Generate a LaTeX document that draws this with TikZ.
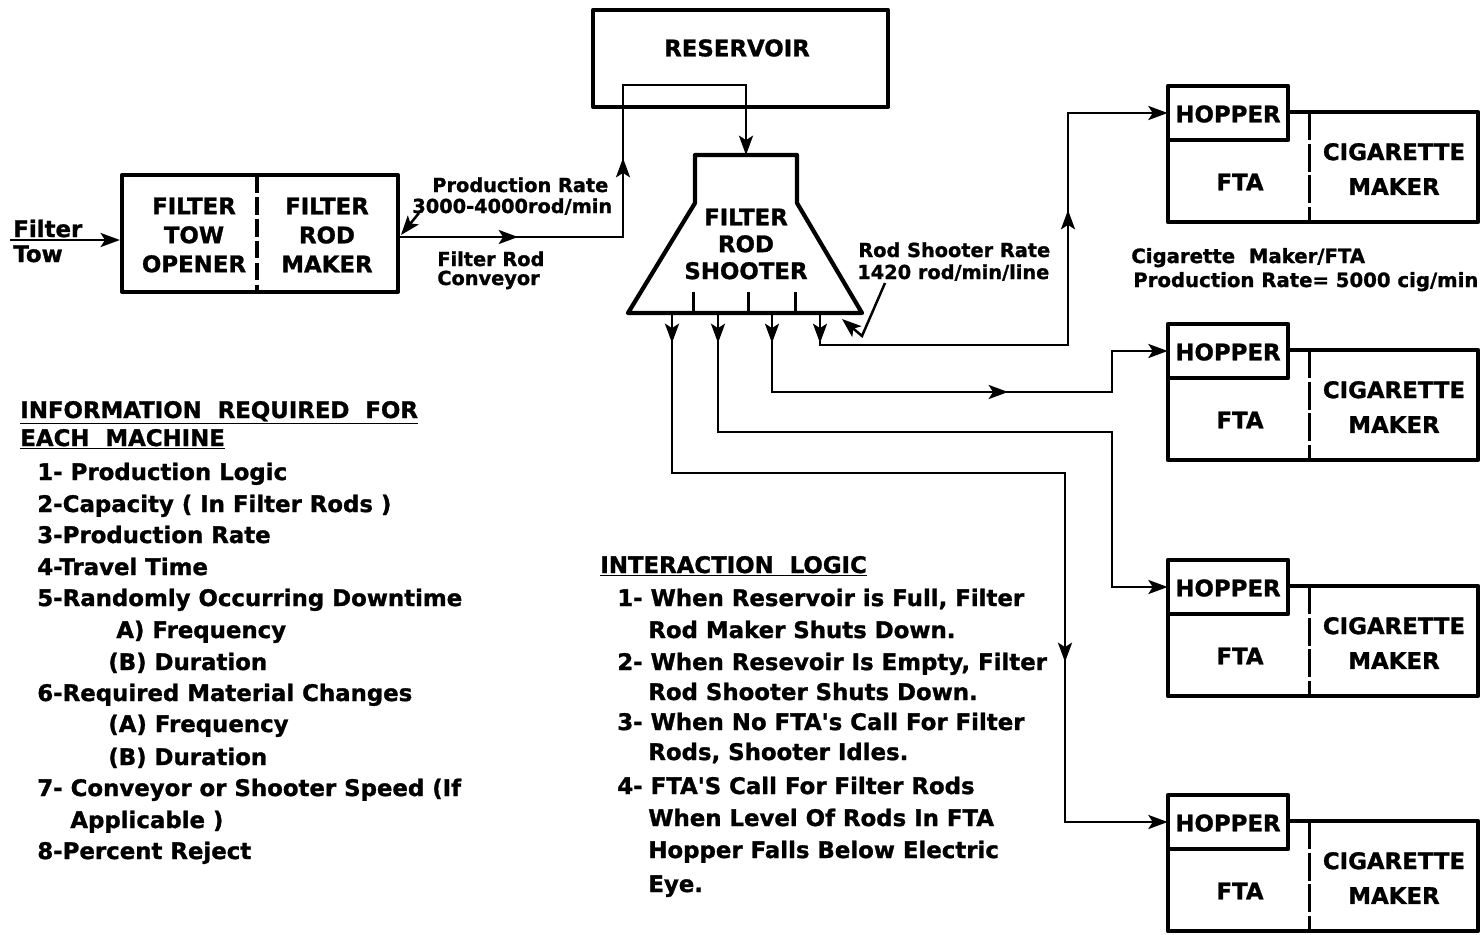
\documentclass[tikz,border=0pt]{standalone}
\usepackage{fontspec}
\setmainfont{DejaVu Sans}
\newfontfamily\heavy{DejaVu Sans Bold}[FakeBold=1.2]
\usetikzlibrary{arrows.meta}
\begin{document}
\begin{tikzpicture}[x=0.02cm,y=-0.02cm,
  box/.style={line width=2.4pt, line join=round},
  conn/.style={line width=1.4pt},
  tip/.style={-{Stealth[length=11pt,width=8pt,inset=2.5pt]}},
  lbl/.style={font=\heavy\fontsize{13}{16}\selectfont, inner sep=0pt, align=center},
  sm/.style={font=\heavy\fontsize{11}{13}\selectfont, inner sep=0pt, anchor=base west},
  smb/.style={font=\heavy\fontsize{11.2}{13}\selectfont, inner sep=0pt, anchor=base west},
  txt/.style={font=\heavy\fontsize{13}{15}\selectfont, inner sep=0pt, anchor=base west},
]
\useasboundingbox (0,0) rectangle (1483,934);

% ---- filter tow opener / filter rod maker
\node[draw,box,minimum width=5.52cm,minimum height=2.34cm,inner sep=0] (fbox) at (260,233.5) {};
\draw[line width=2.2pt,dash pattern=on 10pt off 2.5pt] (257,175) -- (257,292);
\node[lbl,font=\heavy\fontsize{13}{16.5}\selectfont] (fto) at (194,235) {FILTER\\TOW\\OPENER};
\node[lbl,font=\heavy\fontsize{13}{16.5}\selectfont] (frm) at (327,235) {FILTER\\ROD\\MAKER};

\coordinate (tw) at (10,240);
\draw[conn,tip] (tw) -- (tw -| fbox.west);
\node[txt] (ft1) at (13,237) {Filter};
\node[txt] (ft2) at (13,262) {Tow};

% ---- reservoir
\node[draw,box,minimum width=5.9cm,minimum height=1.94cm,inner sep=0] (res) at (740.5,58.5) {};
\node[lbl] (rest) at (737,48) {RESERVOIR};

% ---- shooter
\draw[box] (695,155) -- (797,155) -- (797,203) -- (862,313) -- (628,313) -- (695,203) -- cycle;
\coordinate (st) at (746,155);
\node[lbl,font=\heavy\fontsize{13}{15.3}\selectfont] (sht) at (746,244) {FILTER\\ROD\\SHOOTER};
\foreach \x in {693,748,795} \draw[line width=1.7pt] (\x,292) -- (\x,313);

% ---- conveyor
\coordinate (cv0) at (398,237);
\coordinate (cv1) at (623,237);
\coordinate (cv2) at (623,85);
\coordinate (cv3) at (746,85);
\draw[conn,tip] (cv0) -- (cv1) -- (cv2) -- (cv3) -- (st);
\coordinate (cva) at (518,237);
\coordinate (cvb) at (623,158);
\draw[conn,tip] (cv0) -- (cva);
\draw[conn,tip] (cv1) -- (cvb);
\node[sm] (pr1) at (432,192) {Production Rate};
\node[sm] (pr2) at (412,213) {3000-4000rod/min};
\node[sm] (cvl1) at (437,266) {Filter Rod};
\node[sm] (cvl2) at (437,285) {Conveyor};
\coordinate (pl) at (419,213);
\coordinate (pe) at (401,235);
\draw[conn,tip] (pl) -- (pe);

% ---- FTA / cigarette maker units
\foreach \i/\t in {1/86,2/324,3/560,4/795}{
  \node[minimum width=2.4cm,minimum height=1.08cm,inner sep=0] (h\i) at (1228,\t+27) {};
  \draw[box] (1168,\t) -- (1288,\t) -- (1288,\t+26) -- (1478,\t+26) -- (1478,\t+136) -- (1168,\t+136) -- cycle;
  \draw[box] (1168,\t+54) -- (1288,\t+54) -- (1288,\t+26);
  \node[lbl] at (1228,\t+28) {HOPPER};
  \draw[line width=1.7pt,dash pattern=on 16pt off 2pt] (1309,\t+26) -- (1309,\t+136);
  \node[lbl] at (1240,\t+96) {FTA};
  \node[lbl,font=\heavy\fontsize{13}{19.8}\selectfont] at (1394,\t+83) {CIGARETTE\\MAKER};
}
\node[smb] (cm1) at (1131,263) {Cigarette\ \ Maker/FTA};
\node[smb] (cm2) at (1133,287) {Production Rate= 5000 cig/min};

% ---- shooter outputs
\coordinate (o1) at (672,313);
\coordinate (o2) at (718,313);
\coordinate (o3) at (772,313);
\coordinate (o4) at (820,316);
\coordinate (v4) at (1068,345);
\coordinate (v3) at (1112,392);
\coordinate (v2) at (1112,432);
\coordinate (v1) at (1065,473);
\draw[conn,tip] (o4) -- (o4 |- v4) -- (v4) -- (v4 |- h1.west) -- (h1.west);
\draw[conn,tip] (o3) -- (o3 |- v3) -- (v3) -- (v3 |- h2.west) -- (h2.west);
\draw[conn,tip] (o2) -- (o2 |- v2) -- (v2) -- (v2 |- h3.west) -- (h3.west);
\draw[conn,tip] (o1) -- (o1 |- v1) -- (v1) -- (v1 |- h4.west) -- (h4.west);
\foreach \x in {672,718,772,820} \draw[conn,tip] (\x,313) -- (\x,343);
\coordinate (a4) at (1068,210);
\coordinate (a3) at (1008,392);
\coordinate (a1) at (1065,662);
\draw[conn,tip] (v4) -- (a4);
\draw[conn,tip] (o3 |- v3) -- (a3);
\draw[conn,tip] (v1) -- (a1);

% ---- rod shooter rate
\node[sm] (rr1) at (858,257) {Rod Shooter Rate};
\node[sm] (rr2) at (857,279) {1420 rod/min/line};
\coordinate (rl0) at (885,283);
\coordinate (rl1) at (862,336);
\coordinate (rl2) at (842,319);
\draw[conn,tip] (rl0) -- (rl1) -- (rl2);

% ---- information list
\node[txt] (i0) at (20,418) {\underline{INFORMATION\ \ REQUIRED\ \ FOR}};
\node[txt] (i00) at (20,446) {\underline{EACH\ \ MACHINE}};
\node[txt] (i1) at (37,480) {1- Production Logic};
\node[txt] (i2) at (37,512) {2-Capacity ( In Filter Rods )};
\node[txt] (i3) at (37,543) {3-Production Rate};
\node[txt] (i4) at (37,575) {4-Travel Time};
\node[txt] (i5) at (37,606) {5-Randomly Occurring Downtime};
\node[txt] (i5a) at (116,638) {A) Frequency};
\node[txt] (i5b) at (108,670) {(B) Duration};
\node[txt] (i6) at (37,701) {6-Required Material Changes};
\node[txt] (i6a) at (108,732) {(A) Frequency};
\node[txt] (i6b) at (108,765) {(B) Duration};
\node[txt] (i7) at (37,796) {7- Conveyor or Shooter Speed (If};
\node[txt] (i7b) at (70,828) {Applicable )};
\node[txt] (i8) at (37,859) {8-Percent Reject};

% ---- interaction logic
\node[txt] (l0) at (600,573) {\underline{INTERACTION\ \ LOGIC}};
\node[txt] (l1) at (617,606) {1- When Reservoir is Full, Filter};
\node[txt] (l1b) at (648,638) {Rod Maker Shuts Down.};
\node[txt] (l2) at (617,670) {2- When Resevoir Is Empty, Filter};
\node[txt] (l2b) at (648,700) {Rod Shooter Shuts Down.};
\node[txt] (l3) at (617,730) {3- When No FTA's Call For Filter};
\node[txt] (l3b) at (648,760) {Rods, Shooter Idles.};
\node[txt] (l4) at (617,794) {4- FTA'S Call For Filter Rods};
\node[txt] (l4b) at (648,826) {When Level Of Rods In FTA};
\node[txt] (l4c) at (648,858) {Hopper Falls Below Electric};
\node[txt] (l4d) at (648,892) {Eye.};
\end{tikzpicture}
\end{document}
